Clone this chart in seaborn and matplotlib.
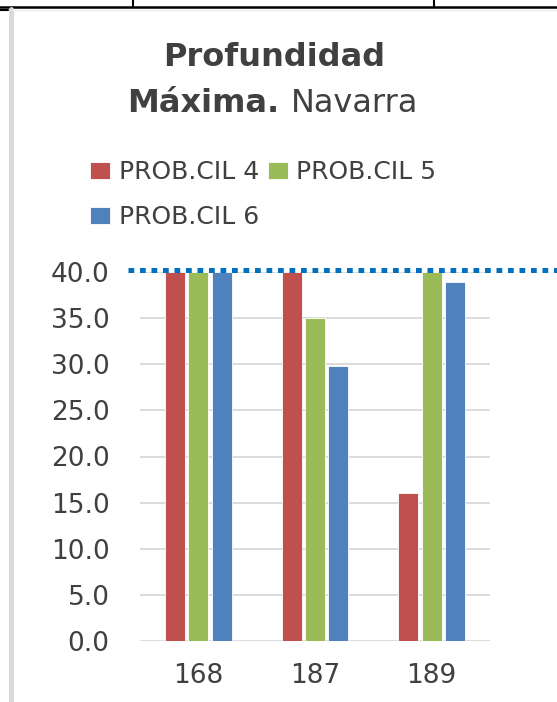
import seaborn as sns
import matplotlib.pyplot as plt
import pandas as pd
from matplotlib.lines import Line2D

# Datos
categorias = ["168", "187", "189"]
series = ["PROB.CIL 4", "PROB.CIL 5", "PROB.CIL 6"]
cil4 = [40.0, 40.0, 16.0]
cil5 = [40.0, 35.0, 40.0]
cil6 = [40.0, 29.8, 38.9]
limite = 40.2
colores = ["#C0504D", "#9BBB59", "#4F81BD"]

df = pd.DataFrame({
    "cat": categorias * 3,
    "serie": [series[0]] * 3 + [series[1]] * 3 + [series[2]] * 3,
    "valor": cil4 + cil5 + cil6,
})

sns.set_style("white")
plt.rcParams["font.family"] = ["DejaVu Sans"]

fig = plt.figure(figsize=(5.57, 7.02), dpi=100)
W, H = 557, 702
ax = fig.add_axes([140 / W, 1 - 641 / H, 350 / W, 369 / H])

sns.barplot(data=df, x="cat", y="valor", hue="serie", palette=colores,
            width=0.6, gap=0.15, saturation=1, ax=ax,
            edgecolor="#FFFFFF", linewidth=0.6)

ax.set_ylim(0, 40)
ax.set_yticks(range(0, 41, 5))
ax.set_yticklabels([f"{v:.1f}" for v in range(0, 41, 5)])
ax.yaxis.grid(True, color="#D9D9D9", linewidth=1.3)
ax.set_axisbelow(True)
for s in ax.spines.values():
    s.set_visible(False)
ax.set_xlabel("")
ax.set_ylabel("")
ax.tick_params(axis="y", length=0, pad=22, labelsize=19, labelcolor="#404040")
ax.tick_params(axis="x", length=0, pad=16, labelsize=19, labelcolor="#404040")

# linea punteada de referencia
ax.axhline(limite, xmin=-0.034, xmax=1.3, color="#0070C0", linewidth=3.6,
           linestyle=(0, (1.15, 1.15)), dash_capstyle="butt", clip_on=False)

# leyenda
h, l = ax.get_legend_handles_labels()
ax.get_legend().remove()
fig.legend([h[0], h[2], h[1]], [l[0], l[2], l[1]], ncol=2, frameon=False,
           loc="upper left", bbox_to_anchor=(80 / W, 1 - 150 / H),
           fontsize=18, labelcolor="#404040", handlelength=0.8,
           handleheight=0.7, handletextpad=0.35, columnspacing=0.35,
           labelspacing=0.85, borderaxespad=0)

# titulo
fig.text(274 / W, 1 - 66 / H, "Profundidad", ha="center", va="baseline",
         fontsize=23, fontweight="bold", color="#404040")
t1 = fig.text(0, 1 - 112 / H, "Máxima.", ha="left", va="baseline",
              fontsize=23, fontweight="bold", color="#404040")
t2 = fig.text(0, 1 - 112 / H, "Navarra", ha="left", va="baseline",
              fontsize=23, color="#404040")
r = fig.canvas.get_renderer()
w1 = t1.get_window_extent(r).width
w2 = t2.get_window_extent(r).width
esp = 12
x0 = 273 - (w1 + esp + w2) / 2
t1.set_x(x0 / W)
t2.set_x((x0 + w1 + esp) / W)

# bordes de la hoja
def linea(x, y, c, lw):
    fig.add_artist(Line2D([v / W for v in x], [1 - v / H for v in y],
                          color=c, linewidth=lw))

linea([0, W], [6.5, 6.5], "black", 1.8)
linea([133, 133], [0, 6.5], "black", 1.5)
linea([434, 434], [0, 6.5], "black", 1.5)
linea([0, 8], [10, 10], "black", 1.5)
linea([10.5, 10.5], [9, H], "#D9D9D9", 3.5)
linea([12, W], [9.5, 9.5], "#EDEDED", 1.0)

fig.savefig("out.png", dpi=100)
